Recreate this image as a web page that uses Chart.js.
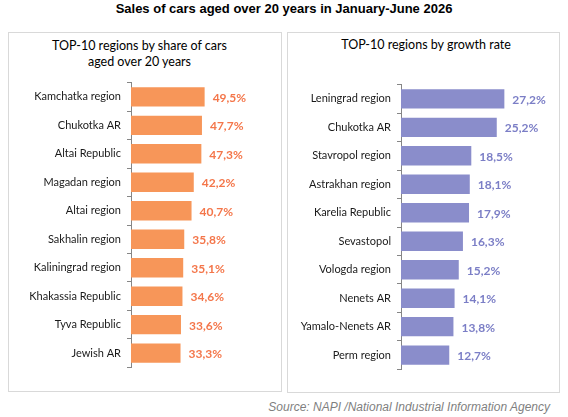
<!DOCTYPE html>
<html>
<head>
<meta charset="utf-8">
<script src="https://cdn.jsdelivr.net/npm/chart.js@4.4.1/dist/chart.umd.min.js"></script>
<style>
  html, body { margin: 0; padding: 0; background: #fff; }
  body { width: 568px; height: 417px; position: relative; overflow: hidden; font-family: Lato, "Liberation Sans", sans-serif; }
  .title { position: absolute; left: 0; width: 568px; top: 1px; text-align: center; font: bold 13px "Liberation Sans", Arial, sans-serif; color: #000; }
  .panel { position: absolute; border: 1px solid #d9d9d9; box-sizing: border-box; }
  .ptitle { position: absolute; text-align: center; font: 12.5px Lato, sans-serif; color: #000; line-height: 16px; }
  .src { position: absolute; right: 18px; top: 400px; font: italic 12px "Liberation Sans", Arial, sans-serif; color: #7f7f7f; }
  canvas { position: absolute; }
</style>
</head>
<body>
<div class="title">Sales of cars aged over 20 years in January-June 2026</div>
<div class="panel" style="left:8px; top:32px; width:274px; height:360px;"></div>
<div class="panel" style="left:287px; top:32px; width:273px; height:361px;"></div>
<div class="ptitle" style="left:8px; width:263px; top:38px;">TOP-10 regions by share of cars<br>aged over 20 years</div>
<div class="ptitle" style="left:287px; width:278px; top:37px;">TOP-10 regions by growth rate</div>
<div class="src">Source: NAPI /National Industrial Information Agency</div>
<div id="c1wrap" style="position:absolute; left:8px; top:70px; width:250px; height:310px;"><canvas id="c1"></canvas></div>
<div id="c2wrap" style="position:absolute; left:288px; top:72px; width:268px; height:310px;"><canvas id="c2"></canvas></div>
<script>
const shareRegions = ["Kamchatka region","Chukotka AR","Altai Republic","Magadan region","Altai region","Sakhalin region","Kaliningrad region","Khakassia Republic","Tyva Republic","Jewish AR"];
const shareValues = [49.5, 47.7, 47.3, 42.2, 40.7, 35.8, 35.1, 34.6, 33.6, 33.3];
const growthRegions = ["Leningrad region","Chukotka AR","Stavropol region","Astrakhan region","Karelia Republic","Sevastopol","Vologda region","Nenets AR","Yamalo-Nenets AR","Perm region"];
const growthValues = [27.2, 25.2, 18.5, 18.1, 17.9, 16.3, 15.2, 14.1, 13.8, 12.7];

const fmt = v => v.toFixed(1).replace('.', ',') + '%';

const valueLabels = {
  id: 'valueLabels',
  afterDatasetsDraw(chart, args, opts) {
    const ctx = chart.ctx;
    const meta = chart.getDatasetMeta(0);
    ctx.save();
    ctx.font = 'bold 12px Lato, sans-serif';
    ctx.fillStyle = opts.color;
    ctx.textAlign = 'left';
    ctx.textBaseline = 'middle';
    meta.data.forEach((bar, i) => {
      ctx.fillText(fmt(chart.data.datasets[0].data[i]), bar.x + 8, bar.y + 1);
    });
    ctx.restore();
  }
};

function makeChart(id, labels, values, barColor, textColor, xmax, axisWidth, pad) {
  return new Chart(document.getElementById(id), {
    type: 'bar',
    data: {
      labels: labels,
      datasets: [{ data: values, backgroundColor: barColor, categoryPercentage: 1.0, barPercentage: 0.68 }]
    },
    options: {
      indexAxis: 'y',
      responsive: true,
      maintainAspectRatio: false,
      animation: false,
      devicePixelRatio: 1,
      layout: { padding: pad },
      plugins: { legend: { display: false }, tooltip: { enabled: false }, valueLabels: { color: textColor } },
      scales: {
        x: { display: false, min: 0, max: xmax },
        y: {
          afterFit(scale) { scale.width = axisWidth; },
          border: { display: true, color: '#868686', width: 1 },
          grid: { display: true, drawOnChartArea: false, drawTicks: true, tickLength: 4, color: '#868686', offset: true },
          ticks: { color: '#1a1a1a', font: { family: 'Lato, sans-serif', size: 11 }, padding: 6 }
        }
      }
    },
    plugins: [valueLabels]
  });
}

makeChart('c1', shareRegions, shareValues, '#F79659', '#F4764A', 80, 123, { top: 9, bottom: 4, right: 8, left: 0 });
makeChart('c2', growthRegions, growthValues, '#8A8DCB', '#7B7EC6', 35, 113, { top: 9, bottom: 4, right: 22, left: 0 });
</script>
</body>
</html>
